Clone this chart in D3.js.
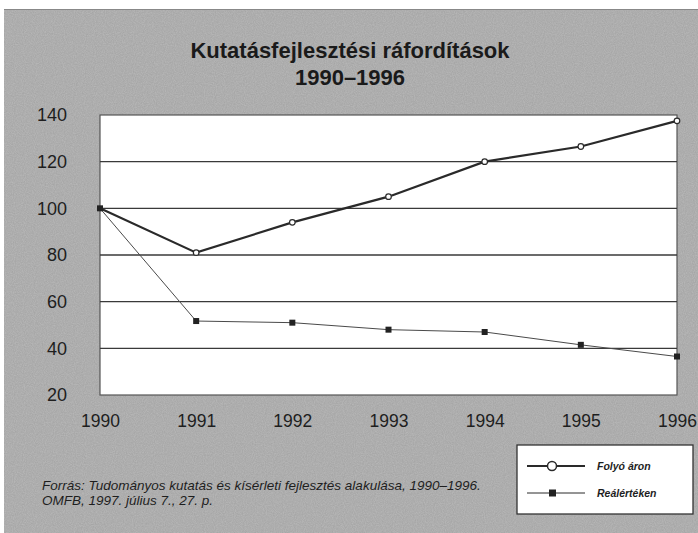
<!DOCTYPE html>
<html>
<head>
<meta charset="utf-8">
<script src="https://cdn.jsdelivr.net/npm/d3@7"></script>
<style>
  html, body { margin: 0; padding: 0; background: #fff; }
  svg { display: block; font-family: "Liberation Sans", Arial, sans-serif; }
</style>
</head>
<body>
<div id="chart"></div>
<script>
const years = [1990, 1991, 1992, 1993, 1994, 1995, 1996];
const folyoAron = [100, 81, 94, 105, 120, 126.5, 137.5];
const realErteken = [100, 51.7, 51, 48, 47, 41.5, 36.5];
const yTicks = [20, 40, 60, 80, 100, 120, 140];
const titleLines = ["Kutatásfejlesztési ráfordítások", "1990–1996"];
const seriesNames = ["Folyó áron", "Reálértéken"];
const sourceLines = [
  "Forrás: Tudományos kutatás és kísérleti fejlesztés alakulása, 1990–1996.",
  "OMFB, 1997. július 7., 27. p."
];

const W = 698, H = 533;
const svg = d3.select("#chart").append("svg").attr("width", W).attr("height", H);

// texture filter
const defs = svg.append("defs");
const f = defs.append("filter").attr("id", "grain").attr("x", 0).attr("y", 0).attr("width", 1).attr("height", 1);
f.append("feTurbulence").attr("type", "fractalNoise").attr("baseFrequency", 0.9).attr("numOctaves", 2).attr("seed", 3).attr("result", "noise");
f.append("feColorMatrix").attr("in", "noise").attr("type", "matrix")
  .attr("values", "0 0 0 0 0.6  0 0 0 0 0.6  0 0 0 0 0.6  0.9 0 0 0 -0.15").attr("result", "n2");
f.append("feComposite").attr("in", "n2").attr("in2", "SourceGraphic").attr("operator", "in");

// panel background
svg.append("rect").attr("x", 4).attr("y", 9).attr("width", W - 4).attr("height", H - 9).attr("fill", "#a6a6a6");
svg.append("rect").attr("x", 4).attr("y", 9).attr("width", W - 4).attr("height", H - 9).attr("fill", "#a6a6a6").attr("filter", "url(#grain)").attr("opacity", 0.7);
svg.append("line").attr("x1", 4).attr("x2", W).attr("y1", 9.5).attr("y2", 9.5).attr("stroke", "#888").attr("stroke-width", 1);

const margin = { left: 100, right: 21, top: 115, bottom: 138 };
const x = d3.scalePoint().domain(years).range([margin.left, W - margin.right]);
const y = d3.scaleLinear().domain([20, 140]).range([H - margin.bottom, margin.top]);

// title
const title = svg.append("text").attr("text-anchor", "middle").attr("font-weight", "bold").attr("font-size", 22).attr("fill", "#1a1a1a");
titleLines.forEach((t, i) => {
  title.append("tspan").attr("x", 350).attr("y", 58 + i * 27).text(t);
});

// plot area
svg.append("rect").attr("x", x(1990)).attr("y", y(140)).attr("width", x(1996) - x(1990)).attr("height", y(20) - y(140))
  .attr("fill", "#fff").attr("stroke", "#555").attr("stroke-width", 1.2);

// gridlines
svg.append("g").selectAll("line").data(yTicks.filter(d => d > 20 && d < 140)).join("line")
  .attr("x1", x(1990)).attr("x2", x(1996)).attr("y1", d => y(d)).attr("y2", d => y(d))
  .attr("stroke", "#3a3a3a").attr("stroke-width", 1.3);

// y axis
const yAxis = d3.axisLeft(y).tickValues(yTicks).tickSize(0).tickPadding(33);
const gy = svg.append("g").attr("transform", `translate(${x(1990)},0)`).call(yAxis);
gy.select(".domain").remove();
gy.selectAll("text").attr("font-size", 18).attr("fill", "#1e1e1e").attr("font-family", "Liberation Sans, Arial, sans-serif");

// x axis
const xAxis = d3.axisBottom(x).tickSize(0).tickPadding(20);
const gx = svg.append("g").attr("transform", `translate(0,${y(20)})`).call(xAxis);
gx.select(".domain").remove();
gx.selectAll("text").attr("font-size", 17.5).attr("fill", "#1e1e1e").attr("font-family", "Liberation Sans, Arial, sans-serif");

// lines
const line = d3.line().x((d, i) => x(years[i])).y(d => y(d));
svg.append("path").datum(realErteken).attr("d", line).attr("fill", "none").attr("stroke", "#4a4a4a").attr("stroke-width", 1);
svg.append("path").datum(folyoAron).attr("d", line).attr("fill", "none").attr("stroke", "#2a2a2a").attr("stroke-width", 2.2);

svg.append("g").selectAll("rect").data(realErteken).join("rect")
  .attr("x", (d, i) => x(years[i]) - 3).attr("y", d => y(d) - 3).attr("width", 6).attr("height", 6).attr("fill", "#222");
svg.append("g").selectAll("circle").data(folyoAron.slice(1)).join("circle")
  .attr("cx", (d, i) => x(years[i + 1])).attr("cy", d => y(d)).attr("r", 2.8)
  .attr("fill", "#fff").attr("stroke", "#2a2a2a").attr("stroke-width", 1.2);

// source
const src = svg.append("text").attr("font-style", "italic").attr("font-size", 13.5).attr("fill", "#1e1e1e");
sourceLines.forEach((t, i) => src.append("tspan").attr("x", 42).attr("y", 490 + i * 15).text(t));

// legend
const lg = svg.append("g");
lg.append("rect").attr("x", 517).attr("y", 445).attr("width", 176).attr("height", 69).attr("fill", "#fff").attr("stroke", "#333").attr("stroke-width", 1.3);
const legendRows = [
  { name: seriesNames[0], y: 466, sw: 2, marker: "circle" },
  { name: seriesNames[1], y: 493, sw: 1, marker: "rect" }
];
legendRows.forEach(r => {
  lg.append("line").attr("x1", 527).attr("x2", 585).attr("y1", r.y).attr("y2", r.y).attr("stroke", "#2a2a2a").attr("stroke-width", r.sw);
  if (r.marker === "circle") {
    lg.append("circle").attr("cx", 552).attr("cy", r.y).attr("r", 4.5).attr("fill", "#fff").attr("stroke", "#2a2a2a").attr("stroke-width", 1.5);
  } else {
    lg.append("rect").attr("x", 549).attr("y", r.y - 3.5).attr("width", 7).attr("height", 7).attr("fill", "#222");
  }
  lg.append("text").attr("x", 597).attr("y", r.y + 4).attr("font-style", "italic").attr("font-weight", "bold").attr("font-size", 10.5).attr("fill", "#1e1e1e").text(r.name);
});
</script>
</body>
</html>
